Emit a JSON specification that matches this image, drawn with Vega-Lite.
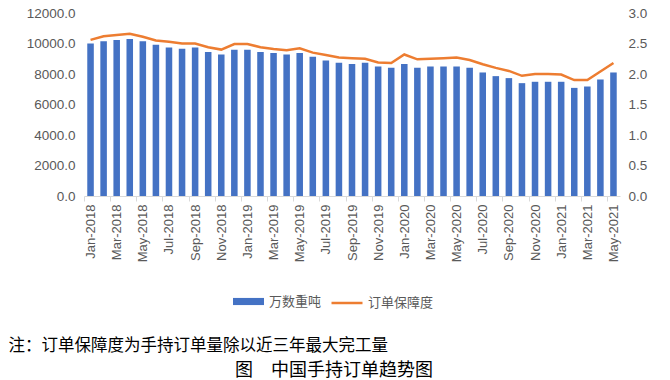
{
  "$schema": "https://vega.github.io/schema/vega-lite/v6.json",
  "autosize": {"type": "none"},
  "width": 536,
  "height": 183,
  "padding": {"left": 84, "top": 13, "right": 50, "bottom": 184},
  "background": "#ffffff",
  "config": {
    "view": {"stroke": null},
    "font": "Liberation Sans"
  },
  "title": {
    "text": "图　中国手持订单趋势图",
    "orient": "bottom",
    "anchor": "middle",
    "offset": 8,
    "dx": -18,
    "font": "Noto Sans CJK SC",
    "fontSize": 18,
    "fontWeight": "normal",
    "color": "#000000"
  },
  "data": {
    "values": [
      {"month": "Jan-2018", "ton": 10000, "ratio": 2.56},
      {"month": "Feb-2018", "ton": 10140, "ratio": 2.62},
      {"month": "Mar-2018", "ton": 10230, "ratio": 2.64},
      {"month": "Apr-2018", "ton": 10290, "ratio": 2.66},
      {"month": "May-2018", "ton": 10140, "ratio": 2.61},
      {"month": "Jun-2018", "ton": 9920, "ratio": 2.55},
      {"month": "Jul-2018", "ton": 9740, "ratio": 2.53},
      {"month": "Aug-2018", "ton": 9660, "ratio": 2.50},
      {"month": "Sep-2018", "ton": 9740, "ratio": 2.50},
      {"month": "Oct-2018", "ton": 9440, "ratio": 2.44},
      {"month": "Nov-2018", "ton": 9280, "ratio": 2.40},
      {"month": "Dec-2018", "ton": 9590, "ratio": 2.49},
      {"month": "Jan-2019", "ton": 9590, "ratio": 2.49},
      {"month": "Feb-2019", "ton": 9440, "ratio": 2.44},
      {"month": "Mar-2019", "ton": 9370, "ratio": 2.41},
      {"month": "Apr-2019", "ton": 9280, "ratio": 2.39},
      {"month": "May-2019", "ton": 9370, "ratio": 2.42},
      {"month": "Jun-2019", "ton": 9130, "ratio": 2.35},
      {"month": "Jul-2019", "ton": 8890, "ratio": 2.31},
      {"month": "Aug-2019", "ton": 8740, "ratio": 2.27},
      {"month": "Sep-2019", "ton": 8650, "ratio": 2.26},
      {"month": "Oct-2019", "ton": 8740, "ratio": 2.25},
      {"month": "Nov-2019", "ton": 8500, "ratio": 2.19},
      {"month": "Dec-2019", "ton": 8410, "ratio": 2.18},
      {"month": "Jan-2020", "ton": 8650, "ratio": 2.32},
      {"month": "Feb-2020", "ton": 8410, "ratio": 2.24},
      {"month": "Mar-2020", "ton": 8500, "ratio": 2.25},
      {"month": "Apr-2020", "ton": 8500, "ratio": 2.26},
      {"month": "May-2020", "ton": 8500, "ratio": 2.27},
      {"month": "Jun-2020", "ton": 8410, "ratio": 2.23},
      {"month": "Jul-2020", "ton": 8100, "ratio": 2.16},
      {"month": "Aug-2020", "ton": 7860, "ratio": 2.10},
      {"month": "Sep-2020", "ton": 7730, "ratio": 2.05},
      {"month": "Oct-2020", "ton": 7400, "ratio": 1.97},
      {"month": "Nov-2020", "ton": 7490, "ratio": 2.00},
      {"month": "Dec-2020", "ton": 7490, "ratio": 2.00},
      {"month": "Jan-2021", "ton": 7490, "ratio": 1.99},
      {"month": "Feb-2021", "ton": 7090, "ratio": 1.90},
      {"month": "Mar-2021", "ton": 7180, "ratio": 1.90},
      {"month": "Apr-2021", "ton": 7640, "ratio": 2.04},
      {"month": "May-2021", "ton": 8100, "ratio": 2.18}
    ]
  },
  "encoding": {
    "x": {
      "field": "month",
      "type": "ordinal",
      "sort": null,
      "scale": {"paddingInner": 0.5, "paddingOuter": 0.25},
      "axis": {
        "values": ["Jan-2018", "Mar-2018", "May-2018", "Jul-2018", "Sep-2018", "Nov-2018", "Jan-2019", "Mar-2019", "May-2019", "Jul-2019", "Sep-2019", "Nov-2019", "Jan-2020", "Mar-2020", "May-2020", "Jul-2020", "Sep-2020", "Nov-2020", "Jan-2021", "Mar-2021", "May-2021"],
        "labelAngle": -90,
        "labelFontSize": 13,
        "labelColor": "#595959",
        "labelPadding": 3,
        "tickColor": "#D9D9D9",
        "domainColor": "#D9D9D9",
        "tickSize": 5,
        "tickOffset": -6.5,
        "labelOffset": 6.5,
        "title": "注：订单保障度为手持订单量除以近三年最大完工量",
        "titleFont": "Noto Sans CJK SC",
        "titleFontSize": 16.5,
        "titleFontWeight": "normal",
        "titleColor": "#000000",
        "titleAnchor": "start",
        "titleAlign": "left",
        "titleBaseline": "middle",
        "titleX": -76,
        "titleY": 149
      }
    }
  },
  "layer": [
    {
      "mark": {"type": "bar"},
      "encoding": {
        "y": {
          "field": "ton",
          "type": "quantitative",
          "scale": {"domain": [0, 12000], "nice": false},
          "axis": {
            "values": [0, 2000, 4000, 6000, 8000, 10000, 12000],
            "format": ".1f",
            "title": null,
            "grid": false,
            "domain": false,
            "ticks": false,
            "labelPadding": 9,
            "labelFontSize": 13.5,
            "labelColor": "#595959"
          }
        },
        "fill": {
          "datum": "万数重吨",
          "scale": {"range": ["#4472C4"]},
          "legend": {
            "orient": "none",
            "legendX": 149,
            "legendY": 273,
            "title": null,
            "padding": 0,
            "symbolType": "M-1,-0.23H1V0.23H-1Z",
            "symbolSize": 961,
            "symbolStrokeWidth": 0,
            "labelFont": "Noto Sans CJK SC",
            "labelFontSize": 13,
            "labelColor": "#595959",
            "labelOffset": 5
          }
        }
      }
    },
    {
      "mark": {"type": "line", "strokeWidth": 2.5},
      "encoding": {
        "y": {
          "field": "ratio",
          "type": "quantitative",
          "scale": {"domain": [0, 3], "nice": false},
          "axis": {
            "orient": "right",
            "values": [0, 0.5, 1, 1.5, 2, 2.5, 3],
            "format": ".1f",
            "title": null,
            "grid": false,
            "domain": false,
            "ticks": false,
            "labelPadding": 8,
            "labelFontSize": 13.5,
            "labelColor": "#595959"
          }
        },
        "stroke": {
          "datum": "订单保障度",
          "scale": {"range": ["#ED7D31"]},
          "legend": {
            "orient": "none",
            "legendX": 246,
            "legendY": 273,
            "title": null,
            "padding": 0,
            "symbolType": "stroke",
            "symbolSize": 961,
            "symbolStrokeWidth": 2.5,
            "labelFont": "Noto Sans CJK SC",
            "labelFontSize": 13,
            "labelColor": "#595959",
            "labelOffset": 4
          }
        }
      }
    }
  ],
  "resolve": {"scale": {"y": "independent"}}
}
